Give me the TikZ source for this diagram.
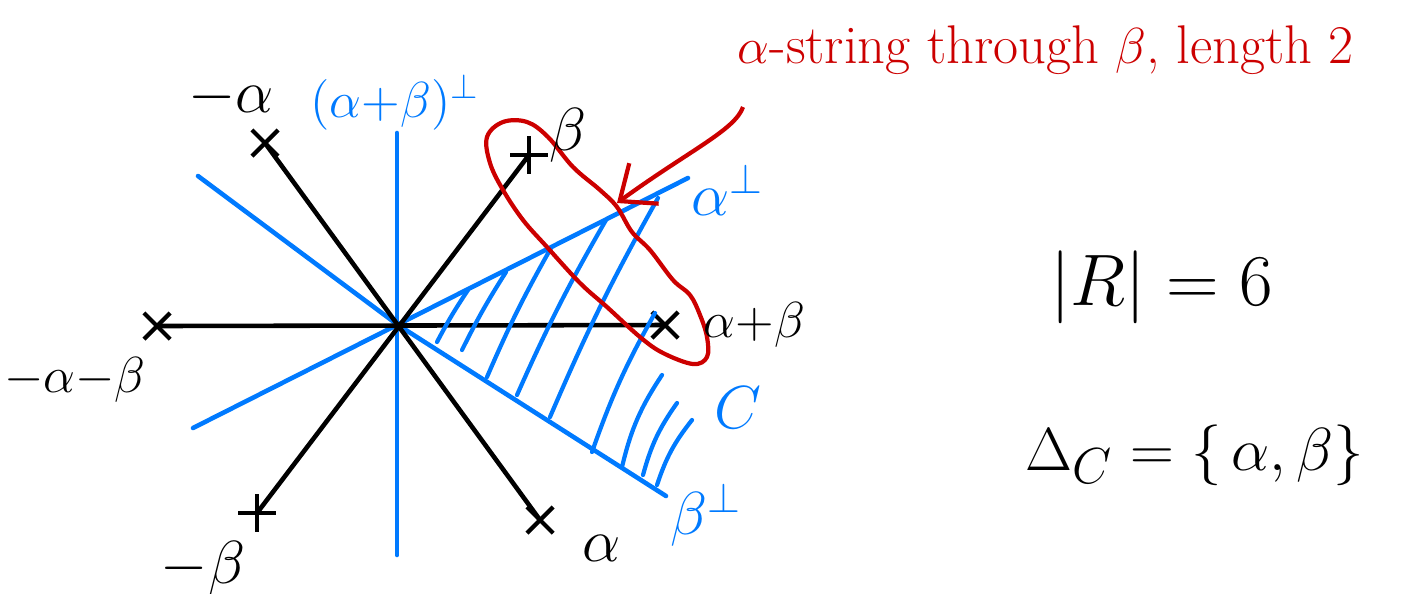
\documentclass[tikz,border=0pt]{standalone}
\usepackage{amsmath}
\usepackage{tikz}
\usetikzlibrary{arrows.meta, positioning, shapes.misc}

\definecolor{perpblue}{RGB}{0,122,255}
\definecolor{stringred}{RGB}{204,0,0}

\begin{document}
\begin{tikzpicture}[
  x=0.01cm, y=-0.01cm,
  rootline/.style={line width=1.3pt, black, line cap=round},
  perpline/.style={line width=1.3pt, perpblue, line cap=round},
  hatch/.style={line width=1.2pt, perpblue, line cap=round},
  rootmark/.style={cross out, draw=black, line width=1.2pt, minimum size=0.22cm, inner sep=0pt},
  plusmark/.style={rootmark, rotate=45},
  rootlbl/.style={font=\fontsize{18}{21}\selectfont, inner sep=0pt},
  pairlbl/.style={font=\fontsize{14}{17}\selectfont, inner sep=0pt},
  perplbl/.style={rootlbl, text=perpblue},
  stringlbl/.style={font=\fontsize{15.5}{18}\selectfont, text=stringred, inner sep=0pt, anchor=west},
  factlbl/.style={font=\fontsize{22}{26}\selectfont, inner sep=0pt, anchor=west},
  arrow/.style={-{Straight Barb[length=3mm, width=5mm]}, line width=1.2pt, stringred}
]
\useasboundingbox (0,0) rectangle (1403,593);

\coordinate (O) at (398,325);
\node[rootmark] (a)   at (540,520) {};
\node[rootmark] (ma)  at (265,143) {};
\node[plusmark] (b)   at (529,155) {};
\node[plusmark] (mb)  at (257,513) {};
\node[rootmark] (ab)  at (665,325) {};
\node[rootmark] (mab) at (157,326) {};

\coordinate (ap1)  at (688,178);
\coordinate (ap2)  at (193,428);
\coordinate (bp1)  at (198,176);
\coordinate (bp2)  at (666,496);
\coordinate (abp1) at (397,133);
\coordinate (abp2) at (397,555);

\draw[perpline] (ap1) -- (ap2);
\draw[perpline] (bp1) -- (O) -- (bp2);
\draw[perpline] (abp1) -- (abp2);

\draw[rootline] (ma.center) -- (a.center);
\draw[rootline] (b.center) -- (mb.center);
\draw[rootline] (mab.center) -- (ab.center);

\foreach \xa/\ya/\xb/\yb/\bend in {468/290/437/342/3, 506/272/462/350/3, 551/248/487/377/3,
    606/220/517/395/3, 658/198/550/417/3, 655/313/592/452/5,
    662/375/622/467/10, 677/403/643/475/10, 692/420/657/485/10}
  \draw[hatch] (\xa,\ya) to[bend right=\bend] (\xb,\yb);

\draw[stringred, line width=1.2pt] plot[smooth cycle, tension=0.6] coordinates {
  (487,137) (503,122) (527,122) (548,137) (573,167) (600,190) (617,207) (632,232)
  (650,250) (673,280) (690,295) (700,315) (707,337) (707,357) (693,364) (663,353)
  (640,337) (607,307) (580,283) (547,247) (523,220) (503,190) (490,163)};

\coordinate (strtail) at (743,107);
\coordinate (strhead) at (617,203);
\draw[arrow] (strtail) .. controls (735,130) and (690,150) .. (strhead);

\node[rootlbl] (lma) at (231,97) {$-\alpha$};
\node[perplbl, font=\fontsize{14}{17}\selectfont] (labp) at (395,102) {$(\alpha{+}\beta)^{\perp}$};
\node[rootlbl] (lb) at (568,135) {$\beta$};
\node[perplbl] (lap) at (728,190) {$\alpha^{\perp}$};
\node[pairlbl, right=0.25cm of ab] (lab) {$\alpha{+}\beta$};
\node[pairlbl] (lmab) at (75,380) {$-\alpha{-}\beta$};
\node[perplbl] (lc) at (738,408) {$C$};
\node[perplbl] (lbp) at (706,515) {$\beta^{\perp}$};
\node[rootlbl] (lmb) at (203,568) {$-\beta$};
\node[rootlbl] (la) at (602,548) {$\alpha$};

\node[stringlbl] (title) at (737,50) {$\alpha$-string through $\beta$, length 2};
\node[factlbl] (card) at (1050,287) {$|R| = 6$};
\node[factlbl, font=\fontsize{19}{23}\selectfont] (simple) at (1025,455) {$\Delta_C = \{\,\alpha, \beta\}$};

\end{tikzpicture}
\end{document}
